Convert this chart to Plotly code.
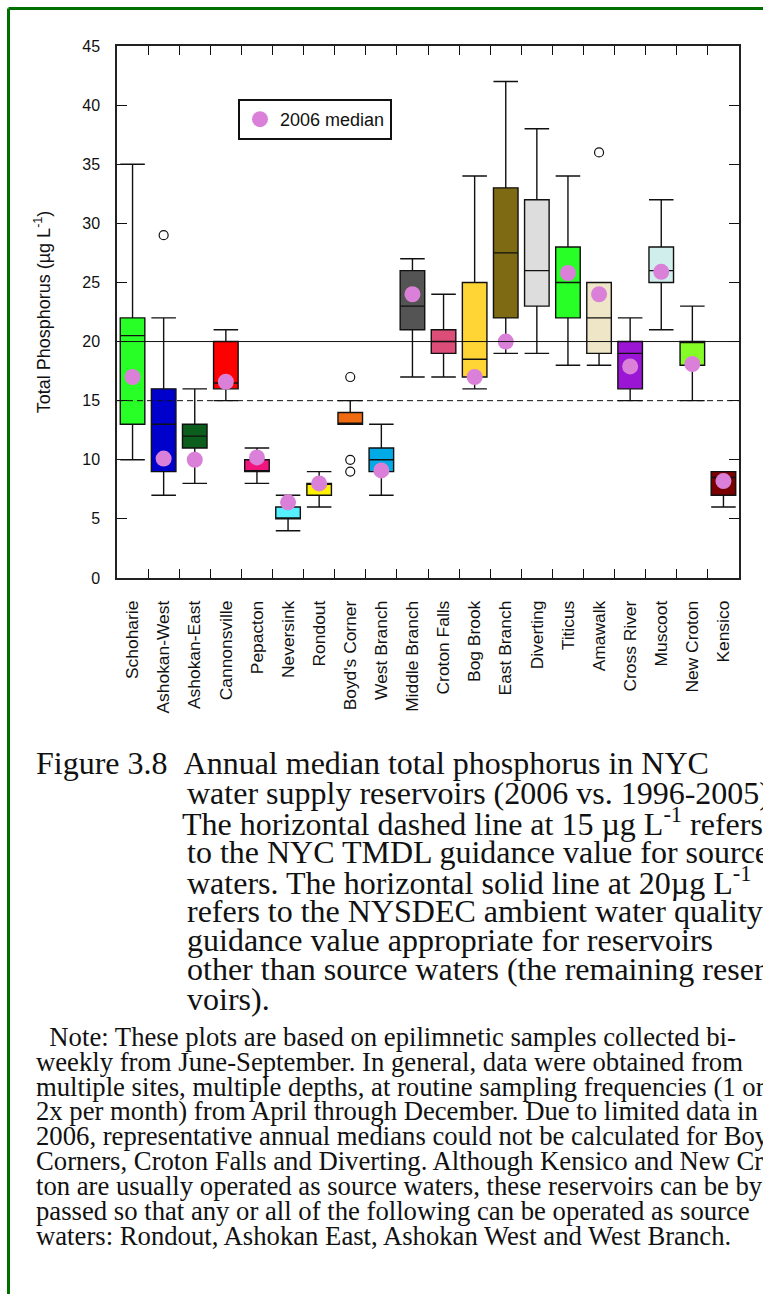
import plotly.graph_objects as go

# ---------------- data ----------------
reservoirs = ["Schoharie", "Ashokan-West", "Ashokan-East", "Cannonsville", "Pepacton",
              "Neversink", "Rondout", "Boyd's Corner", "West Branch", "Middle Branch",
              "Croton Falls", "Bog Brook", "East Branch", "Diverting", "Titicus",
              "Amawalk", "Cross River", "Muscoot", "New Croton", "Kensico"]

whisker_low  = [10, 7, 8, 15, 8, 4, 6, 13, 7, 17, 17, 16, 19, 19, 18, 18, 15, 21, 15, 6]
q1           = [13, 9, 11, 16, 9, 5, 7, 13, 9, 21, 19, 17, 22, 23, 22, 19, 16, 25, 18, 7]
medians      = [20.5, 13, 12, 16.5, 9, 5, 8, 13, 10, 23, 20, 18.5, 27.5, 26, 25, 22, 19, 26, 20, 8.5]
q3           = [22, 16, 13, 20, 10, 6, 8, 14, 11, 26, 21, 25, 33, 32, 28, 25, 20, 28, 20, 9]
whisker_high = [35, 22, 16, 21, 11, 7, 9, 15, 13, 27, 24, 34, 42, 38, 34, 25, 22, 32, 23, 9]

box_colors = ["#27FF27", "#0000CC", "#0B5E1B", "#FF0000", "#F0167E",
              "#55F0FF", "#FFF200", "#F06A12", "#00AAE6", "#545454",
              "#DC4D77", "#FFD535", "#7D6A13", "#DCDDDC", "#27FF27",
              "#EEE6C6", "#9B16D4", "#D0EEEC", "#86FC27", "#7A0000"]

outlier_cats = ["Ashokan-West", "Boyd's Corner", "Boyd's Corner", "Boyd's Corner", "Amawalk"]
outlier_vals = [29, 17, 10, 9, 36]

median_2006 = [17.0, 10.1, 10.0, 16.6, 10.2, 6.4, 8.0, None, 9.1, 24.0,
               None, 17.0, 20.0, None, 25.8, 24.0, 17.9, 25.9, 18.1, 8.2]

tmdl_guidance = 15
nysdec_guidance = 20

caption_lines = [
    "Figure 3.8\u00a0\u00a0Annual median total phosphorus in NYC",
    "water supply reservoirs (2006 vs. 1996-2005).",
    "The horizontal dashed line at 15 \u00b5g L<sup>-1</sup> refers",
    "to the NYC TMDL guidance value for source",
    "waters. The horizontal solid line at 20\u00b5g L<sup>-1</sup>",
    "refers to the NYSDEC ambient water quality",
    "guidance value appropriate for reservoirs",
    "other than source waters (the remaining reser-",
    "voirs).",
]
note_lines = [
    "\u00a0\u00a0Note: These plots are based on epilimnetic samples collected bi-",
    "weekly from June-September. In general, data were obtained from",
    "multiple sites, multiple depths, at routine sampling frequencies (1 or",
    "2x per month) from April through December. Due to limited data in",
    "2006, representative annual medians could not be calculated for Boyd's",
    "Corners, Croton Falls and Diverting. Although Kensico and New Cro-",
    "ton are usually operated as source waters, these reservoirs can be by-",
    "passed so that any or all of the following can be operated as source",
    "waters: Rondout, Ashokan East, Ashokan West and West Branch.",
]

# ---------------- layout geometry (pixels) ----------------
W, H = 763, 1294
L, R, T, B = 117, 24, 46, 716
PW, PH = W - L - R, H - T - B


def px(x):
    return (x - L) / PW


def py(y):
    return (H - B - y) / PH


SANS = "Liberation Sans, Arial, sans-serif"
SERIF = "Liberation Serif, Times New Roman, serif"

fig = go.Figure()

for i, name in enumerate(reservoirs):
    fig.add_trace(go.Box(
        x=[name], q1=[q1[i]], median=[medians[i]], q3=[q3[i]],
        lowerfence=[whisker_low[i]], upperfence=[whisker_high[i]],
        fillcolor=box_colors[i], line=dict(color="#111111", width=1.4),
        whiskerwidth=1, width=0.79, boxpoints=False, showlegend=False,
        hoverinfo="skip",
    ))

fig.add_trace(go.Scatter(
    x=outlier_cats, y=outlier_vals, mode="markers", showlegend=False,
    marker=dict(symbol="circle-open", size=9, color="#111111", line=dict(width=1.2)),
))

fig.add_trace(go.Scatter(
    x=reservoirs, y=median_2006, mode="markers", name="2006 median",
    marker=dict(symbol="circle", size=16, color="#DA80D8"),
))

fig.update_xaxes(
    type="category", categoryorder="array", categoryarray=reservoirs,
    range=[-0.5, len(reservoirs) - 0.5],
    tickson="boundaries", ticks="inside", ticklen=9, tickcolor="#111111",
    showline=True, linecolor="#222222", linewidth=1.5, mirror="ticks",
    tickangle=-90, tickfont=dict(family=SANS, size=17.4, color="#111111"),
    ticklabelstandoff=14, showgrid=False, zeroline=False,
)
fig.update_yaxes(
    range=[0, 45], dtick=5, tick0=0,
    ticks="inside", ticklen=10, tickcolor="#111111",
    showline=True, linecolor="#222222", linewidth=1.5, mirror="ticks",
    tickfont=dict(family=SANS, size=16, color="#111111"),
    ticklabelstandoff=12, showgrid=False, zeroline=False,
    title=dict(text="Total Phosphorus (\u00b5g L<sup>-1</sup>)",
               font=dict(family=SANS, size=18, color="#111111"),
               standoff=27),
)

annotations = []
cap_x = [37, 188, 183, 188, 188, 188, 188, 188, 188]
cap_y = [763, 793, 822, 852, 881, 911, 940, 969, 999]
for txt, xx, yy in zip(caption_lines, cap_x, cap_y):
    annotations.append(dict(
        text=txt, xref="paper", yref="paper", x=px(xx - 3), y=py(yy),
        xanchor="left", yanchor="middle", showarrow=False,
        font=dict(family=SERIF, size=32, color="#111111"),
    ))
note_y = [1037, 1062, 1087, 1111, 1136, 1161, 1186, 1211, 1236]
for txt, yy in zip(note_lines, note_y):
    annotations.append(dict(
        text=txt, xref="paper", yref="paper", x=px(34), y=py(yy),
        xanchor="left", yanchor="middle", showarrow=False,
        font=dict(family=SERIF, size=26.7, color="#111111"),
    ))

border = "#006F00"
shapes = [
    # NYSDEC guidance (solid) and NYC TMDL guidance (dashed)
    dict(type="line", xref="paper", yref="y", x0=0, x1=1,
         y0=nysdec_guidance, y1=nysdec_guidance,
         line=dict(color="#111111", width=1), layer="above"),
    dict(type="line", xref="paper", yref="y", x0=0, x1=1,
         y0=tmdl_guidance, y1=tmdl_guidance,
         line=dict(color="#111111", width=1, dash="6px,4px"), layer="above"),
    # page frame
    dict(type="line", xref="paper", yref="paper", x0=px(8.5), x1=px(8.5),
         y0=py(8.5), y1=py(H + 10), line=dict(color=border, width=3)),
    dict(type="line", xref="paper", yref="paper", x0=px(8.5), x1=px(W + 10),
         y0=py(8.5), y1=py(8.5), line=dict(color=border, width=3)),
]

fig.update_layout(
    width=W, height=H,
    margin=dict(l=L, r=R, t=T, b=B, pad=0),
    paper_bgcolor="white", plot_bgcolor="white",
    boxmode="overlay",
    font=dict(family=SANS, color="#111111"),
    legend=dict(x=px(238), y=py(99), xanchor="left", yanchor="top",
                bordercolor="#111111", borderwidth=2, bgcolor="white",
                font=dict(family=SANS, size=18, color="#111111")),
    annotations=annotations,
    shapes=shapes,
)

fig.write_html("out.html")
